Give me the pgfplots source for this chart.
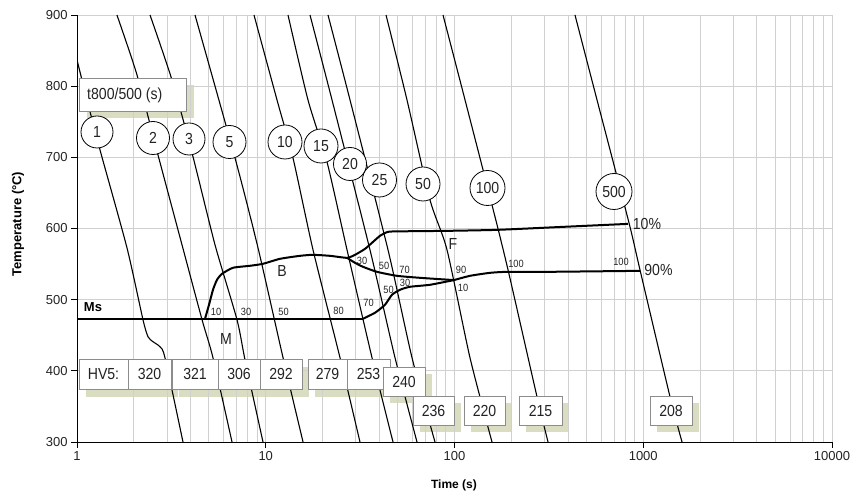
\documentclass[border=0pt]{standalone}
\usepackage{fontspec}
\setmainfont{Liberation Sans}
\newfontfamily\nar[FakeStretch=0.88]{Liberation Sans}
\usepackage{pgfplots}
\pgfplotsset{compat=1.18}
\definecolor{gridc}{RGB}{208,208,208}
\definecolor{shad}{RGB}{218,221,194}
\definecolor{boxc}{RGB}{140,140,140}
\definecolor{txt}{RGB}{35,35,35}
\newcommand\bx[5]{\draw[boxc,fill=white,line width=0.8pt] (#1,#2) rectangle (#3,#4);
  \node[txt,font=\nar\fontsize{16}{18}\selectfont,inner sep=0pt] at ({(#1+#3)/2},{(#2+#4)/2}) {#5};}
\newcommand\cl[4]{\draw[black,fill=white,line width=0.8pt] (#1,#2) circle[radius=#3pt];
  \node[txt,font=\nar\fontsize{16}{18}\selectfont,inner sep=0pt] at (#1,#2) {#4};}
\newcommand\sml[3]{\node[txt,font=\nar\fontsize{10.5}{12}\selectfont,inner sep=0pt] at (#1,#2) {#3};}
\begin{document}
\begin{tikzpicture}
\useasboundingbox (0,0) rectangle (852pt,492pt);
% shadows
\begin{scope}[x=1pt,y=-1pt,shift={(0pt,492pt)}]
\fill[shad] (87,85) rectangle (194,118);
\fill[shad] (86,367) rectangle (135,397);
\fill[shad] (135,367) rectangle (178,397);
\fill[shad] (179,367) rectangle (225,397);
\fill[shad] (225,367) rectangle (267,397);
\fill[shad] (267,367) rectangle (309,397);
\fill[shad] (315,367) rectangle (354,397);
\fill[shad] (354,367) rectangle (397,397);
\fill[shad] (390,374) rectangle (432,403);
\fill[shad] (420,403) rectangle (461,432);
\fill[shad] (471,403) rectangle (512,432);
\fill[shad] (526,403) rectangle (569,432);
\fill[shad] (657,403) rectangle (699,432);
\end{scope}
\begin{axis}[at={(77pt,50pt)}, anchor=south west, scale only axis,
  width=755pt, height=427pt,
  xmode=log, xmin=1, xmax=10000, ymin=300, ymax=900,
  xtick={1,10,100,1000,10000}, xticklabels={1,10,100,1000,10000},
  minor xtick={2,3,4,5,6,7,8,9,20,30,40,50,60,70,80,90,200,300,400,500,600,700,800,900,2000,3000,4000,5000,6000,7000,8000,9000},
  ytick={300,400,500,600,700,800,900}, yticklabels={300,400,500,600,700,800,900},
  xmajorgrids, xminorgrids, ymajorgrids,
  grid style={gridc, line width=0.9pt}, minor grid style={gridc, line width=0.9pt},
  axis x line*=bottom, axis y line*=left,
  axis line style={black, line width=0.9pt},
  tick style={black, line width=0.9pt},
  tick align=outside, major tick length=6pt, minor tick length=0pt,
  ticklabel style={font=\fontsize{13}{15}\selectfont, text=txt},
  cc/.style={black, line width=1.1pt, smooth, tension=0.4},
  tl/.style={black, line width=2pt, smooth, tension=0.35},
]
% cooling curves
\addplot[cc] coordinates {(1,836.8) (1.130,780.7) (1.324,710.4) (1.840,572.8) (2.237,471.8) (2.378,447.9) (2.527,440.9) (2.753,433.8) (2.925,418.4) (3.644,300)};
\addplot[cc] coordinates {(1.628,900) (2.079,815.8) (2.686,703.4) (3.600,577.1) (4.597,471.8) (5.254,418.4) (6.626,300)};
\addplot[cc] coordinates {(2.437,900) (3.186,808.7) (4.119,700.6) (5.385,577.1) (7.042,471.8) (7.765,415.6) (9.670,300)};
\addplot[cc] coordinates {(4.219,900) (6.873,699.2) (9.099,572.8) (12.35,418.4) (15.76,300)};
\addplot[cc] coordinates {(8.665,900) (11.47,780.7) (13.94,699.2) (17.80,570.0) (24.74,418.4) (31.57,300)};
\addplot[cc] coordinates {(13.12,900) (16.74,780.7) (21.11,693.6) (26.95,570.0) (36.56,418.4) (47.23,300)};
\addplot[cc] coordinates {(17.16,900) (22.44,780.7) (35.67,570.0) (48.40,418.4) (63.29,300)};
\addplot[cc] coordinates {(21.37,900) (27.95,780.7) (44.44,570.0) (59.56,418.4) (78.83,300)};
\addplot[cc] coordinates {(43.37,900) (56.01,780.7) (74.17,640.2) (91.27,570.0) (120.8,418.4) (158.0,300)};
\addplot[cc] coordinates {(86.93,900) (113.7,780.7) (158.0,633.2) (192.1,542.0) (273.6,363.6) (312.9,300)};
\addplot[cc] coordinates {(434.9,900) (568.9,780.7) (840.5,607.9) (960.8,542.0) (1386,363.6) (1605,300)};
% Ms line
\addplot[black, line width=1.4pt] coordinates {(1,473) (32.75,473)};
% 10% start line
\addplot[tl] coordinates {(4.766,473) (5.004,492.8) (5.254,513.9) (5.516,527.9) (5.865,536.3) (6.708,544.8) (8.254,547.6) (9.670,550.4) (11.90,557.4) (15.19,561.6) (17.80,563.0) (21.90,561.6) (26.95,558.8) (29.71,563.0) (33.57,571.4) (36.56,579.9) (40.30,589.7) (44.44,595.3) (51.44,596.0) (91.27,596.7) (168.0,598.1) (375.6,602.3) (830.4,606.5)};
% middle branch
\addplot[tl] coordinates {(26.95,558.8) (29.71,551.8) (32.75,546.2) (38.85,539.1) (49.61,533.5) (65.66,530.7) (99.4,527.5)};
% lower branch
\addplot[tl] coordinates {(32.75,473.2) (37.92,481.6) (42.83,492.8) (46.66,506.9) (51.44,513.9) (58.10,518.1) (74.17,520.9) (99.4,527.5)};
% 90% line
\addplot[tl] coordinates {(99.4,527.5) (120.8,533.5) (154.2,537.7) (189.7,539.1) (309.2,539.1) (960.8,540.5)};
\end{axis}
\begin{scope}[x=1pt,y=-1pt,shift={(0pt,492pt)}]
% boxes
\draw[boxc,fill=white,line width=0.8pt] (79,78) rectangle (186,111);
\node[txt,font=\nar\fontsize{16}{18}\selectfont,inner sep=0pt,anchor=west] at (87,95) {t800/500 (s)};
\bx{79}{359}{128}{389}{HV5:}
\bx{128}{359}{171}{389}{320}
\bx{172}{359}{218}{389}{321}
\bx{218}{359}{260}{389}{306}
\bx{260}{359}{302}{389}{292}
\bx{308}{359}{347}{389}{279}
\bx{347}{359}{390}{389}{253}
\bx{383}{367}{425}{396}{240}
\bx{413}{396}{454}{425}{236}
\bx{464}{396}{505}{425}{220}
\bx{519}{396}{562}{425}{215}
\bx{650}{396}{692}{425}{208}
% circles
\cl{97}{132}{16}{1}
\cl{153}{138}{16.5}{2}
\cl{189}{139}{16}{3}
\cl{229.5}{142}{16.5}{5}
\cl{285}{142}{17}{10}
\cl{321}{146}{17}{15}
\cl{350}{164}{16.5}{20}
\cl{379.5}{180}{17}{25}
\cl{423}{184}{17}{50}
\cl{487.5}{188}{17.5}{100}
\cl{614}{191.5}{18}{500}
% region labels
\node[txt,font=\nar\fontsize{16}{18}\selectfont,inner sep=0pt] at (226,339) {M};
\node[txt,font=\nar\fontsize{16}{18}\selectfont,inner sep=0pt] at (282,271) {B};
\node[txt,font=\nar\fontsize{16}{18}\selectfont,inner sep=0pt] at (453,244) {F};
\node[txt,font=\nar\fontsize{16}{18}\selectfont,inner sep=0pt] at (647,224) {10\%};
\node[txt,font=\nar\fontsize{16}{18}\selectfont,inner sep=0pt] at (658.5,270) {90\%};
\node[black,font=\bfseries\fontsize{13}{15}\selectfont,inner sep=0pt] at (93,307) {Ms};
% small labels
\sml{216}{312}{10}
\sml{246}{312}{30}
\sml{283.5}{312}{50}
\sml{338.5}{311}{80}
\sml{368.5}{303}{70}
\sml{388.5}{289.5}{50}
\sml{405}{283}{30}
\sml{404.5}{270}{70}
\sml{384}{266}{50}
\sml{362}{261}{30}
\sml{461}{270}{90}
\sml{463}{288}{10}
\sml{516}{264}{100}
\sml{621}{261.5}{100}
% axis titles
\node[black,rotate=90,font=\bfseries\fontsize{13}{15}\selectfont,inner sep=0pt] at (18,224) {Temperature (°C)};
\node[black,font=\bfseries\fontsize{12}{14}\selectfont,inner sep=0pt] at (454,485) {Time (s)};
\end{scope}
\end{tikzpicture}
\end{document}
